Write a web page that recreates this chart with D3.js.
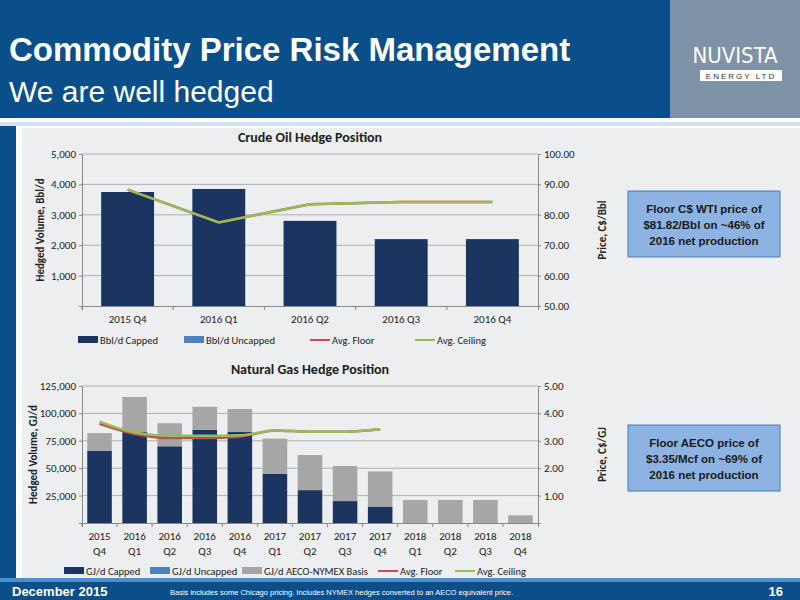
<!DOCTYPE html>
<html><head><meta charset="utf-8">
<script src="https://cdn.jsdelivr.net/npm/d3@7"></script>
<style>body{margin:0;font-family:"Liberation Sans",Arial,sans-serif}</style>
</head><body><svg width="800" height="600"></svg>
<script>
// crude oil
let oilQuarters = ["2015 Q4", "2016 Q1", "2016 Q2", "2016 Q3", "2016 Q4"]
let oilCapped = [3750, 3850, 2800, 2200, 2200]
let oilFloor = [88.3, 77.5, 83.5, 84.2, 84.2]
let oilCeiling = [88.3, 77.5, 83.5, 84.2, 84.2]
let oilLeftTicks = [1000, 2000, 3000, 4000, 5000]
let oilRightTicks = [50, 60, 70, 80, 90, 100]

// natural gas
let gasQuarters = ["2015 Q4", "2016 Q1", "2016 Q2", "2016 Q3", "2016 Q4", "2017 Q1", "2017 Q2", "2017 Q3", "2017 Q4", "2018 Q1", "2018 Q2", "2018 Q3", "2018 Q4"]
let gasCapped = [66000, 83000, 70000, 85000, 83000, 45000, 30000, 20000, 15000, 0, 0, 0, 0]
let gasBasis = [16000, 32000, 21000, 21000, 21000, 32000, 32000, 32000, 32000, 21000, 21000, 21000, 7000]
let gasFloor = [3.62, 3.25, 3.1, 3.1, 3.15, 3.38, 3.33, 3.33, 3.42]
let gasCeiling = [3.7, 3.3, 3.18, 3.18, 3.2, 3.38, 3.33, 3.33, 3.42]
let gasLeftTicks = [25000, 50000, 75000, 100000, 125000]
let gasRightTicks = [1, 2, 3, 4, 5]

let navy = "#1b3560", lightBlue = "#4f81bd", grey = "#a6a6a6", red = "#c0504d", green = "#9bbb59"
let svg = d3.select("svg")
let cfont = "Calibri, Carlito, 'Liberation Sans Narrow', 'DejaVu Sans Condensed', sans-serif"

// background
svg.append("rect").attr("width", 800).attr("height", 600).attr("fill", "#ffffff")
svg.append("rect").attr("width", 670).attr("height", 118).attr("fill", "#0b4f8a")
svg.append("rect").attr("x", 670).attr("width", 130).attr("height", 118).attr("fill", "#7f93a8")
svg.append("rect").attr("x", 0).attr("y", 122).attr("width", 800).attr("height", 4).attr("fill", "#cfe3f2")
svg.append("rect").attr("x", 0).attr("y", 126).attr("width", 16).attr("height", 452).attr("fill", "#0b4f8a")
svg.append("rect").attr("x", 22).attr("y", 128).attr("width", 778).attr("height", 450).attr("fill", "#eceef0")
svg.append("rect").attr("x", 0).attr("y", 578).attr("width", 800).attr("height", 4).attr("fill", "#4a90d0")
svg.append("rect").attr("x", 0).attr("y", 582).attr("width", 800).attr("height", 18).attr("fill", "#0b4f8a")

svg.append("text").attr("x", 9).attr("y", 61).attr("fill", "#fff").style("font-size", "33px").style("font-weight", "bold").text("Commodity Price Risk Management")
svg.append("text").attr("x", 9).attr("y", 102).attr("fill", "#fff").style("font-size", "30px").text("We are well hedged")
svg.append("text").attr("x", 735).attr("y", 63).attr("text-anchor", "middle").attr("fill", "#fff").style("font-size", "22px").style("font-family", "'DejaVu Sans Condensed'").text("NUVISTA")
svg.append("rect").attr("x", 700).attr("y", 70).attr("width", 82).attr("height", 11).attr("fill", "#fff")
svg.append("text").attr("x", 741).attr("y", 79).attr("text-anchor", "middle").attr("fill", "#333").style("font-size", "8px").style("letter-spacing", "2px").text("ENERGY LTD")

svg.append("text").attr("x", 12).attr("y", 596).attr("fill", "#fff").style("font-size", "13px").style("font-weight", "bold").text("December 2015")
svg.append("text").attr("x", 170).attr("y", 595).attr("fill", "#fff").style("font-size", "7.5px").text("Basis includes some Chicago pricing.   Includes NYMEX hedges converted to an AECO equivalent price.")
svg.append("text").attr("x", 783).attr("y", 596).attr("text-anchor", "end").attr("fill", "#fff").style("font-size", "13px").style("font-weight", "bold").text("16")

let infoBox = (y, lines) => {
  svg.append("rect").attr("x", 628).attr("y", y).attr("width", 152).attr("height", 66).attr("fill", "#8db3e2").attr("stroke", "#4a7ab5")
  lines.forEach((l, i) => svg.append("text").attr("x", 704).attr("y", y + 22 + i * 16).attr("text-anchor", "middle")
    .style("font-size", "11.5px").style("font-weight", "bold").attr("fill", "#1a1a1a").text(l))
}
infoBox(191, ["Floor C$ WTI price of", "$81.82/Bbl on ~46% of", "2016 net production"])
infoBox(425, ["Floor AECO price of", "$3.35/Mcf on ~69% of", "2016 net production"])

let drawChart = (o) => {
  let x = d3.scaleBand().domain(o.cats).range([82, 538]).paddingInner(o.pad).paddingOuter(o.pad / 2)
  let yL = d3.scaleLinear().domain([0, o.lMax]).range([o.bottom, o.top])
  let yR = d3.scaleLinear().domain(o.rDom).range([o.bottom, o.top])
  let g = svg.append("g").style("font-family", cfont)
  g.append("text").attr("x", 310).attr("y", o.top - 12).attr("text-anchor", "middle").style("font-size", "14px").style("font-weight", "bold").attr("fill", "#222").text(o.title)
  g.selectAll(".grid").data(o.lTicks).enter().append("line").attr("x1", 82).attr("x2", 538)
    .attr("y1", d => yL(d)).attr("y2", d => yL(d)).attr("stroke", "#a0a0a0").attr("stroke-width", 0.8)
  let ax = g.append("g").attr("transform", "translate(82,0)").call(d3.axisLeft(yL).tickValues(o.lTicks).tickFormat(d3.format(",")).tickSize(3))
  let ar = g.append("g").attr("transform", "translate(538,0)").call(d3.axisRight(yR).tickValues(o.rTicks).tickFormat(d3.format(".2f")).tickSize(3))
  let ab = g.append("g").attr("transform", `translate(0,${o.bottom})`).call(d3.axisBottom(x).tickSize(4).tickFormat(""))
  ;[ax, ar, ab].forEach(a => { a.selectAll("text").style("font-size", "11px").style("font-family", cfont).attr("fill", "#222"); a.selectAll("path,line").attr("stroke", "#888") })
  ab.selectAll(".tick line").attr("transform", `translate(${-x.step() / 2},0)`)
  o.cats.forEach(c => {
    let parts = o.wrap ? c.split(" ") : [c]
    parts.forEach((p, i) => g.append("text").attr("x", x(c) + x.bandwidth() / 2).attr("y", o.bottom + 17 + i * 15)
      .attr("text-anchor", "middle").style("font-size", "11px").attr("fill", "#222").text(p))
  })
  g.selectAll(".cap").data(o.capped).enter().append("rect").attr("x", (d, i) => x(o.cats[i])).attr("width", x.bandwidth())
    .attr("y", d => yL(d)).attr("height", d => o.bottom - yL(d)).attr("fill", navy)
  if (o.basis) g.selectAll(".bas").data(o.basis).enter().append("rect").attr("x", (d, i) => x(o.cats[i])).attr("width", x.bandwidth())
    .attr("y", (d, i) => yL(d + o.capped[i])).attr("height", d => o.bottom - yL(d)).attr("fill", grey)
  let line = d3.line().x((d, i) => x(o.cats[i]) + x.bandwidth() / 2).y(d => yR(d)).curve(o.curve)
  g.append("path").datum(o.floor).attr("d", line).attr("fill", "none").attr("stroke", red).attr("stroke-width", 2.5)
  g.append("path").datum(o.ceiling).attr("d", line).attr("fill", "none").attr("stroke", green).attr("stroke-width", 2.5)
  g.append("text").attr("transform", `translate(${o.lLabelX},${(o.top + o.bottom) / 2}) rotate(-90)`).attr("text-anchor", "middle")
    .style("font-size", "11px").style("font-weight", "bold").attr("fill", "#222").text(o.lLabel)
  g.append("text").attr("transform", `translate(606,${(o.top + o.bottom) / 2}) rotate(-90)`).attr("text-anchor", "middle")
    .style("font-size", "11px").style("font-weight", "bold").attr("fill", "#222").text(o.rLabel)
  let lx = o.legendX
  o.legend.forEach((l, i) => {
    if (l[2] == "rect") g.append("rect").attr("x", lx[i]).attr("y", o.legendY - 4).attr("width", 20).attr("height", 7).attr("fill", l[1])
    else g.append("line").attr("x1", lx[i]).attr("x2", lx[i] + 20).attr("y1", o.legendY).attr("y2", o.legendY).attr("stroke", l[1]).attr("stroke-width", 2)
    g.append("text").attr("x", lx[i] + 22).attr("y", o.legendY + 4).style("font-size", "10.5px").attr("fill", "#222").text(l[0])
  })
}

drawChart({
  title: "Crude Oil Hedge Position", cats: oilQuarters, pad: 0.42, top: 154, bottom: 306, lMax: 5000, rDom: [50, 100],
  lTicks: oilLeftTicks, rTicks: oilRightTicks, capped: oilCapped, floor: oilFloor, ceiling: oilCeiling, curve: d3.curveLinear,
  lLabel: "Hedged Volume, Bbl/d", lLabelX: 44, rLabel: "Price, C$/Bbl", legendY: 340, legendX: [78, 184, 310, 415],
  legend: [["Bbl/d Capped", navy, "rect"], ["Bbl/d Uncapped", lightBlue, "rect"], ["Avg. Floor", red, "line"], ["Avg. Ceiling", green, "line"]]
})
drawChart({
  title: "Natural Gas Hedge Position", cats: gasQuarters, pad: 0.3, top: 386, bottom: 523, lMax: 125000, rDom: [0, 5], wrap: true,
  lTicks: gasLeftTicks, rTicks: gasRightTicks, capped: gasCapped, basis: gasBasis, floor: gasFloor, ceiling: gasCeiling, curve: d3.curveMonotoneX,
  lLabel: "Hedged Volume, GJ/d", lLabelX: 37, rLabel: "Price, C$/GJ", legendY: 571, legendX: [64, 150, 242, 378, 455],
  legend: [["GJ/d Capped", navy, "rect"], ["GJ/d Uncapped", lightBlue, "rect"], ["GJ/d AECO-NYMEX Basis", grey, "rect"], ["Avg. Floor", red, "line"], ["Avg. Ceiling", green, "line"]]
})
</script></body></html>
